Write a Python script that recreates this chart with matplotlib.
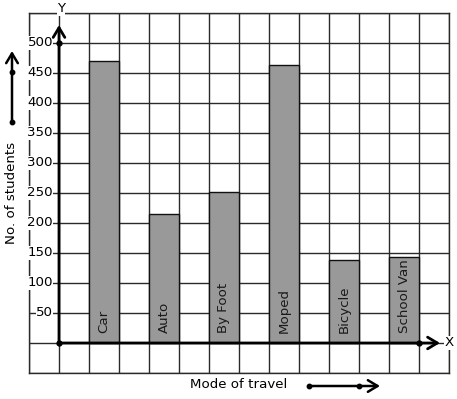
import matplotlib
matplotlib.use("Agg")
import matplotlib.pyplot as plt
import numpy as np

categories = ["Car", "Auto", "By Foot", "Moped", "Bicycle", "School Van"]
students = [470, 215, 252, 463, 138, 144]
ytick_values = [50, 100, 150, 200, 250, 300, 350, 400, 450, 500]

W, H = 457, 399
fig = plt.figure(figsize=(W / 100, H / 100), dpi=100)

def fx(px):
    return px / W

def fy(py):
    return 1 - py / H

ax = fig.add_axes([fx(29), fy(373), 420 / W, 360 / H])
ax.set_xlim(-1, 13)
ax.set_ylim(-50, 550)
ax.set_xticks(np.arange(-1, 14, 1))
ax.set_yticks(np.arange(-50, 551, 50))
ax.tick_params(length=0, labelbottom=False, labelleft=False)
ax.grid(True, color="#2a2a2a", lw=1.0)
ax.set_axisbelow(True)
for s in ax.spines.values():
    s.set_color("#2a2a2a")
    s.set_linewidth(1.0)

fs = 9.6
xpos = np.arange(len(categories)) * 2 + 1.5
ax.bar(xpos, students, width=1.0, color="#999999", edgecolor="#111111", lw=1.0, zorder=2)
for x, c in zip(xpos, categories):
    ax.text(x, 16.7, c, rotation=90, ha="center", va="bottom", fontsize=fs, color="#1a1a1a", zorder=3)

# y tick labels with white background
for v in ytick_values:
    ax.text(-0.2, v, str(v), ha="right", va="center", fontsize=fs,
            bbox=dict(facecolor="white", edgecolor="none", pad=0.2), zorder=4)

# axes with arrows
arrow_kw = dict(arrowstyle="->,head_length=0.5,head_width=0.3", lw=2.0, color="black",
                mutation_scale=14, shrinkA=0, shrinkB=0)
ax.annotate("", xy=(0, 530), xytext=(0, 0), arrowprops=arrow_kw, annotation_clip=False, zorder=5)
ax.annotate("", xy=(12.7, 0), xytext=(0, 0), arrowprops=arrow_kw, annotation_clip=False, zorder=5)
ax.plot([0, 0, 12], [0, 500, 0], "o", color="black", ms=3.5, zorder=6, clip_on=False)
ax.text(0.07, 557, "Y", ha="center", va="center", fontsize=fs,
        bbox=dict(facecolor="white", edgecolor="none", pad=0.2), zorder=6, clip_on=False)
ax.text(13.0, 0, "X", ha="center", va="center", fontsize=fs,
        bbox=dict(facecolor="white", edgecolor="none", pad=0.2), zorder=6, clip_on=False)

# outside annotations
fig.text(fx(12), fy(193), "No. of students", rotation=90, ha="center", va="center", fontsize=fs)
fig.text(fx(239), fy(385), "Mode of travel", ha="center", va="center", fontsize=fs)

fig_arrow = dict(arrowstyle="->,head_length=0.5,head_width=0.3", lw=1.8, color="black",
                 mutation_scale=14, shrinkA=0, shrinkB=0)
ax.annotate("", xy=(fx(12), fy(51)), xycoords="figure fraction",
            xytext=(fx(12), fy(122)), textcoords="figure fraction",
            arrowprops=fig_arrow, annotation_clip=False)
ax.annotate("", xy=(fx(380), fy(386)), xycoords="figure fraction",
            xytext=(fx(309), fy(386)), textcoords="figure fraction",
            arrowprops=fig_arrow, annotation_clip=False)
ax.plot([fx(12), fx(12), fx(309), fx(359)], [fy(72), fy(122), fy(386), fy(386)], "o",
        color="black", ms=3.2, transform=fig.transFigure, clip_on=False)

fig.savefig("out.png", dpi=100, facecolor="white")
